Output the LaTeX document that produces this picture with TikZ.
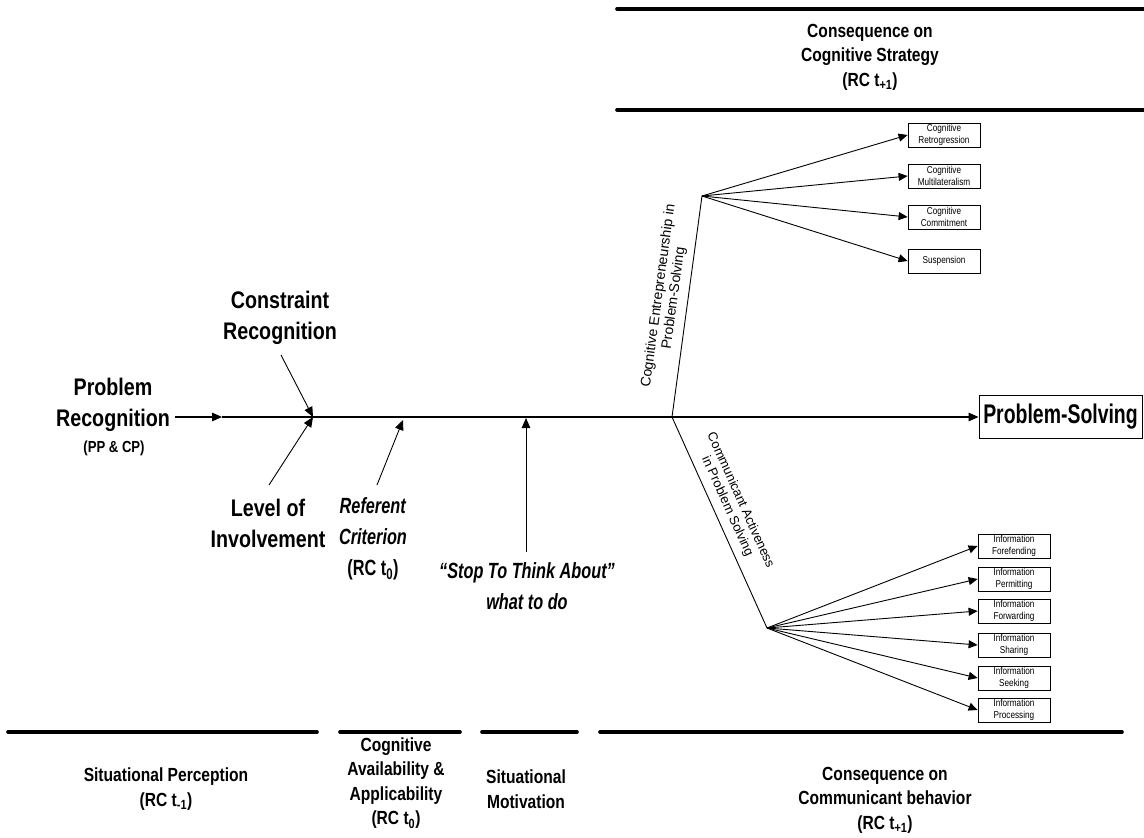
\documentclass[tikz,border=0pt]{standalone}
\usepackage{fontspec}
\setmainfont{Liberation Sans}[FakeStretch=0.82]
\newfontfamily\widesans{Liberation Sans}
\newfontfamily\slimsans{Liberation Sans}[FakeStretch=0.74]
\newfontfamily\tallsans{Liberation Sans}[FakeStretch=0.72]
\usetikzlibrary{arrows.meta}
\begin{document}
\begin{tikzpicture}[x=1pt,y=-1pt,
  conn/.style={line width=0.9pt},
  mainline/.style={line width=1.3pt},
  tip/.style={-{Triangle[length=10pt,width=8.5pt]}},
  bar/.style={line width=3.6pt, line cap=round},
  bigtext/.style={font=\bfseries\fontsize{24}{31}\selectfont, align=center, inner sep=0pt},
  slimtext/.style={font=\slimsans\bfseries\fontsize{22}{31}\selectfont, align=center, inner sep=0pt},
  captext/.style={font=\bfseries\fontsize{19}{24.5}\selectfont, align=center, inner sep=0pt},
  leaf/.style={draw, line width=0.8pt, minimum width=72pt, minimum height=24pt, inner sep=0pt,
    align=center, font=\fontsize{10}{11.5}\selectfont},
  slopetext/.style={font=\widesans\fontsize{13}{14.5}\selectfont, align=center, inner sep=1pt}
]
\useasboundingbox (0,0) rectangle (1144,838);

% header and footer bars
\draw[bar] (617,9) -- (1150,9);
\draw[bar] (617,110) -- (1150,110);
\draw[bar] (8,732) -- (317,732);
\draw[bar] (340,732) -- (460,732);
\draw[bar] (482,732) -- (577,732);
\draw[bar] (600,732) -- (1122,732);

% phase captions
\node[captext] (ccs) at (870,57) {Consequence on\\Cognitive Strategy\\(RC t\textsubscript{+1})};
\node[captext] (sp) at (166,789) {Situational Perception\\(RC t\textsubscript{-1})};
\node[captext] (caa) at (396,783) {Cognitive\\Availability \&\\Applicability\\(RC t\textsubscript{0})};
\node[captext] (smv) at (526,789) {Situational\\Motivation};
\node[captext] (ccb) at (885,800) {Consequence on\\Communicant behavior\\(RC t\textsubscript{+1})};

% spine labels
\node[bigtext] (prob) at (113,405) {Problem\\Recognition};
\node[font=\bfseries\fontsize{16}{18}\selectfont, inner sep=0pt] (ppcp) at (114,448) {(PP \& CP)};
\node[bigtext] (cons) at (280,318) {Constraint\\Recognition};
\node[bigtext] (invl) at (268,523) {Level of\\Involvement};
\node[slimtext] (refc) at (373,539) {\textit{Referent}\\\textit{Criterion}\\(RC t\textsubscript{0})};
\node[slimtext] (stop) at (527,586) {\textit{“Stop To Think About”}\\\textit{what to do}};

% outcome box
\node[draw, line width=0.9pt, minimum width=163pt, minimum height=43pt, inner sep=0pt,
  font=\tallsans\bfseries\fontsize{27}{30}\selectfont] (ps) at (1060.5,417) {Problem-Solving};

% spine points
\coordinate (pstart) at (175,417);
\coordinate (pmid) at (222,417);
\coordinate (junc) at (313,417);
\coordinate (consfoot) at (281,355);
\coordinate (invlhead) at (269,485);
\coordinate (refhead) at (377,485);
\coordinate (reftip) at (403,420);
\coordinate (stopfoot) at (526,552);
\coordinate (stoptip) at (526,418);
\coordinate (branch) at (672,417);
\coordinate (apexU) at (702,196);
\coordinate (apexL) at (767,628);

% spine
\draw[mainline, tip] (pstart) -- (pmid);
\draw[mainline] (pmid) -- (branch);
\draw[mainline, tip] (branch) -- (ps.west);
\draw[conn, tip] (consfoot) -- (junc);
\draw[conn, tip] (invlhead) -- (junc);
\draw[conn, tip] (refhead) -- (reftip);
\draw[conn, tip] (stopfoot) -- (stoptip);

% cognitive strategy branch
\draw[conn] (branch) -- (apexU)
  node[slopetext, font=\widesans\fontsize{14}{15.5}\selectfont, pos=0.53, sloped, above=6pt] (cep)
  {Cognitive Entrepreneurship in\\Problem-Solving};
\node[leaf] (c1) at (944,135) {Cognitive\\Retrogression};
\node[leaf] (c2) at (944,176) {Cognitive\\Multilateralism};
\node[leaf] (c3) at (944,217) {Cognitive\\Commitment};
\node[leaf] (c4) at (944,261) {Suspension};
\foreach \b in {c1,c2,c3,c4}
  \draw[conn, -{Triangle[length=9pt,width=8pt]}] (apexU) -- (\b.west);

% communicative behaviour branch
\draw[conn] (branch) -- (apexL)
  node[slopetext, pos=0.45, sloped, above=6pt] (cap) {Communicant Activeness\\in Problem Solving};
\node[leaf] (i1) at (1014,546) {Information\\Forefending};
\node[leaf] (i2) at (1014,579) {Information\\Permitting};
\node[leaf] (i3) at (1014,611) {Information\\Forwarding};
\node[leaf] (i4) at (1014,645) {Information\\Sharing};
\node[leaf] (i5) at (1014,678) {Information\\Seeking};
\node[leaf] (i6) at (1014,710) {Information\\Processing};
\foreach \b in {i1,i2,i3,i4,i5,i6}
  \draw[conn, -{Triangle[length=9pt,width=8pt]}] (apexL) -- (\b.west);
\end{tikzpicture}
\end{document}
